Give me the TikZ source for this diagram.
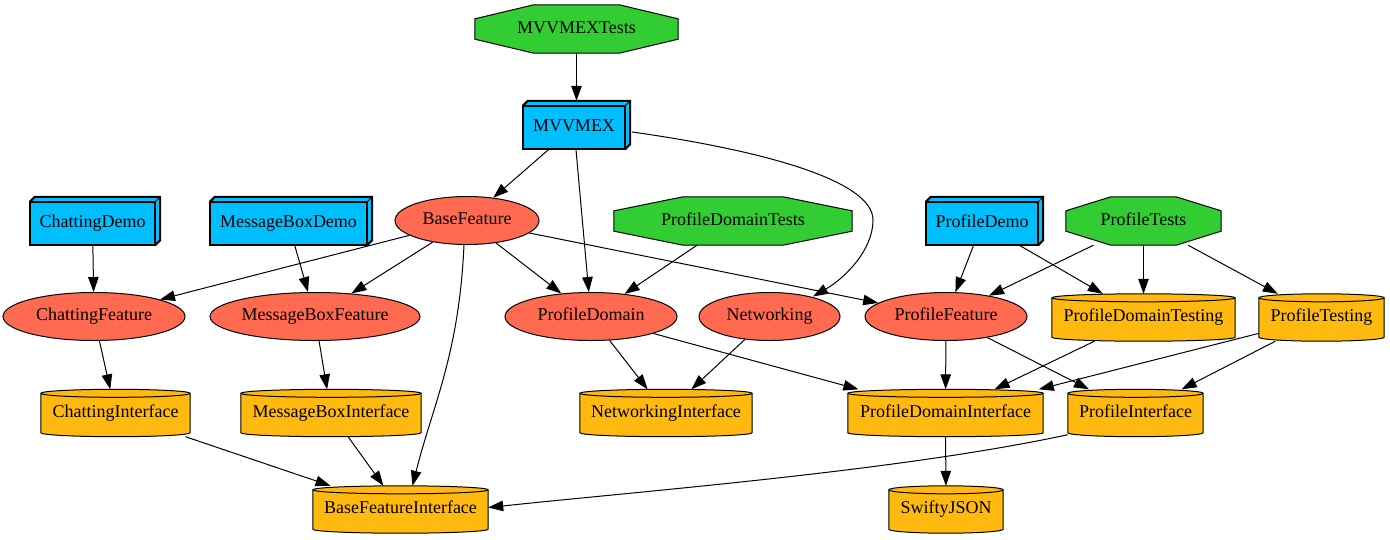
\documentclass[tikz,border=0pt]{standalone}
\usepackage{fontspec}
\setmainfont{Liberation Serif}
\usetikzlibrary{shapes.geometric,arrows.meta,calc,backgrounds}
\definecolor{gGreen}{RGB}{50,205,50}
\definecolor{gBlue}{RGB}{0,191,255}
\definecolor{gTomato}{RGB}{255,106,80}
\definecolor{gGold}{RGB}{255,185,15}
\newcommand\lbl[1]{\makebox[0pt]{#1}}
\tikzset{
  base/.style={font=\fontsize{18}{20}\selectfont, inner sep=0pt, text height=12pt, text depth=4pt},
  feat/.style={base, ellipse, draw, fill=gTomato, line width=1pt, minimum height=48pt},
  boxnode/.style={base, rectangle, minimum height=43pt},
  octnode/.style={base, rectangle, minimum height=48pt},
  cylnode/.style={base, rectangle, minimum height=47pt},
  edge/.style={line width=1pt, -{Triangle[length=15pt,width=10.5pt]}},
}
\newcommand\gvbox[1]{%
  \begin{scope}[on background layer]
    \fill[gBlue] (#1.north west) -- ++(5pt,5pt) -- ($(#1.north east)+(5pt,5pt)$) -- ($(#1.south east)+(5pt,5pt)$) -- (#1.south east) -- (#1.south west) -- cycle;
    \draw[line width=2pt, line join=miter] (#1.north west) rectangle (#1.south east);
    \draw[line width=2pt, line join=miter] (#1.north west) -- ++(5pt,5pt) -- ($(#1.north east)+(5pt,5pt)$) -- ($(#1.south east)+(5pt,5pt)$) -- (#1.south east);
    \draw[line width=1pt] (#1.north east) -- ++(5pt,5pt);
  \end{scope}}
\newcommand\gvoct[1]{%
  \begin{scope}[on background layer]
    \path[fill=gGreen, draw, line width=1pt] let \p1=(#1.north west), \p2=(#1.south east),
      \n1={0.29*(\x2-\x1)}, \n2={0.29*(\y1-\y2)} in
      (\x1,\y1-\n2) -- (\x1+\n1,\y1) -- (\x2-\n1,\y1) -- (\x2,\y1-\n2) -- (\x2,\y2+\n2)
      -- (\x2-\n1,\y2) -- (\x1+\n1,\y2) -- (\x1,\y2+\n2) -- cycle;
  \end{scope}}
\newcommand\gvcyl[1]{%
  \begin{scope}[on background layer]
    \path[fill=gGold, draw, line width=1pt] let \p1=(#1.north west), \p2=(#1.south east),
      \n1={(\x2-\x1)/2} in
      (\x1,\y1-4pt) -- (\x1,\y2+4pt) arc[start angle=180, end angle=360, x radius=\n1, y radius=4pt]
      -- (\x2,\y1-4pt) arc[start angle=0, end angle=180, x radius=\n1, y radius=4pt] -- cycle;
    \path[draw, line width=1pt] let \p1=(#1.north west), \p2=(#1.south east),
      \n1={(\x2-\x1)/2} in
      (\x1,\y1-4pt) arc[start angle=180, end angle=360, x radius=\n1, y radius=4pt];
  \end{scope}}
\begin{document}
\begin{tikzpicture}[x=1pt,y=1pt]
\useasboundingbox (0,0) rectangle (1390,-539);
% octagons
\node[octnode, minimum width=203pt] (MVVMEXTests) at (576.5,-29) {\lbl{MVVMEXTests}};
\node[octnode, minimum width=238pt] (ProfileDomainTests) at (733,-221) {\lbl{ProfileDomainTests}};
\node[octnode, minimum width=155pt] (ProfileTests) at (1143.5,-221) {\lbl{ProfileTests}};
\gvoct{MVVMEXTests}\gvoct{ProfileDomainTests}\gvoct{ProfileTests}
% boxes
\node[boxnode, minimum width=102pt] (MVVMEX) at (574,-127.5) {\lbl{MVVMEX}};
\node[boxnode, minimum width=125pt] (ChattingDemo) at (92.5,-223.5) {\lbl{ChattingDemo}};
\node[boxnode, minimum width=157pt] (MessageBoxDemo) at (288.5,-223.5) {\lbl{MessageBoxDemo}};
\node[boxnode, minimum width=112pt] (ProfileDemo) at (982,-223.5) {\lbl{ProfileDemo}};
\gvbox{MVVMEX}\gvbox{ChattingDemo}\gvbox{MessageBoxDemo}\gvbox{ProfileDemo}
% ellipses
\node[feat, minimum width=144pt] (BaseFeature) at (467,-220.5) {\lbl{BaseFeature}};
\node[feat, minimum width=182pt] (ChattingFeature) at (94,-316.5) {\lbl{ChattingFeature}};
\node[feat, minimum width=210pt] (MessageBoxFeature) at (315,-316.5) {\lbl{MessageBoxFeature}};
\node[feat, minimum width=172pt] (ProfileDomain) at (591,-316.5) {\lbl{ProfileDomain}};
\node[feat, minimum width=141pt] (Networking) at (769.5,-316.5) {\lbl{Networking}};
\node[feat, minimum width=162pt] (ProfileFeature) at (946,-316.5) {\lbl{ProfileFeature}};
% cylinders
\node[cylnode, minimum width=183pt] (ProfileDomainTesting) at (1143.5,-317.5) {\lbl{ProfileDomainTesting}};
\node[cylnode, minimum width=125pt] (ProfileTesting) at (1321.5,-317.5) {\lbl{ProfileTesting}};
\node[cylnode, minimum width=149pt] (ChattingInterface) at (115.5,-413) {\lbl{ChattingInterface}};
\node[cylnode, minimum width=180pt] (MessageBoxInterface) at (331,-413) {\lbl{MessageBoxInterface}};
\node[cylnode, minimum width=172pt] (NetworkingInterface) at (666,-413) {\lbl{NetworkingInterface}};
\node[cylnode, minimum width=195pt] (ProfileDomainInterface) at (945.5,-413) {\lbl{ProfileDomainInterface}};
\node[cylnode, minimum width=135pt] (ProfileInterface) at (1135.5,-413) {\lbl{ProfileInterface}};
\node[cylnode, minimum width=175pt] (BaseFeatureInterface) at (400.5,-509.5) {\lbl{BaseFeatureInterface}};
\node[cylnode, minimum width=114pt] (SwiftyJSON) at (946,-509.5) {\lbl{SwiftyJSON}};
\gvcyl{ProfileDomainTesting}\gvcyl{ProfileTesting}\gvcyl{ChattingInterface}\gvcyl{MessageBoxInterface}
\gvcyl{NetworkingInterface}\gvcyl{ProfileDomainInterface}\gvcyl{ProfileInterface}\gvcyl{BaseFeatureInterface}\gvcyl{SwiftyJSON}
% edges
\draw[edge] (MVVMEXTests.south) -- ([yshift=5pt]MVVMEXTests.south |- MVVMEX.north);
\draw[edge] (MVVMEX) -- (BaseFeature);
\draw[edge] (MVVMEX) -- (ProfileDomain);
\draw[edge] ([xshift=7pt,yshift=-4.5pt]MVVMEX.east) .. controls (760,-150) and (873,-180) .. (873,-220)
  .. controls (873,-250) and (845,-278) .. ([xshift=43.5pt,yshift=20pt]Networking.center);
\draw[edge] (ChattingDemo) -- (ChattingFeature);
\draw[edge] (MessageBoxDemo) -- (MessageBoxFeature);
\draw[edge] (BaseFeature) -- (ChattingFeature);
\draw[edge] (BaseFeature) -- (MessageBoxFeature);
\draw[edge] (BaseFeature) -- (ProfileDomain);
\draw[edge] (BaseFeature) -- (ProfileFeature);
\draw[edge] ([xshift=-3pt]BaseFeature.south) .. controls +(-5,-110) and +(20,80) .. ([xshift=12pt]BaseFeatureInterface.north);
\draw[edge] (ProfileDomainTests) -- (ProfileDomain);
\draw[edge] (ProfileDemo) -- (ProfileFeature);
\draw[edge] (ProfileDemo) -- (ProfileDomainTesting);
\draw[edge] (ProfileTests) -- (ProfileFeature);
\draw[edge] (ProfileTests) -- (ProfileDomainTesting);
\draw[edge] (ProfileTests) -- (ProfileTesting);
\draw[edge] (ChattingFeature) -- (ChattingInterface);
\draw[edge] (MessageBoxFeature) -- (MessageBoxInterface);
\draw[edge] (ProfileDomain) -- (NetworkingInterface);
\draw[edge] (ProfileDomain) -- (ProfileDomainInterface);
\draw[edge] (Networking) -- (NetworkingInterface);
\draw[edge] (ProfileFeature) -- (ProfileDomainInterface);
\draw[edge] (ProfileFeature) -- (ProfileInterface);
\draw[edge] (ProfileDomainTesting) -- (ProfileDomainInterface);
\draw[edge] (ProfileTesting) -- (ProfileDomainInterface);
\draw[edge] (ProfileTesting) -- (ProfileInterface);
\draw[edge] (ChattingInterface) -- (BaseFeatureInterface);
\draw[edge] (MessageBoxInterface) -- (BaseFeatureInterface);
\draw[edge] ([yshift=2pt]ProfileInterface.south west) .. controls +(-167,-36) and +(160,17) .. ([yshift=2pt]BaseFeatureInterface.east);
\draw[edge] (ProfileDomainInterface) -- (SwiftyJSON);
\end{tikzpicture}
\end{document}
